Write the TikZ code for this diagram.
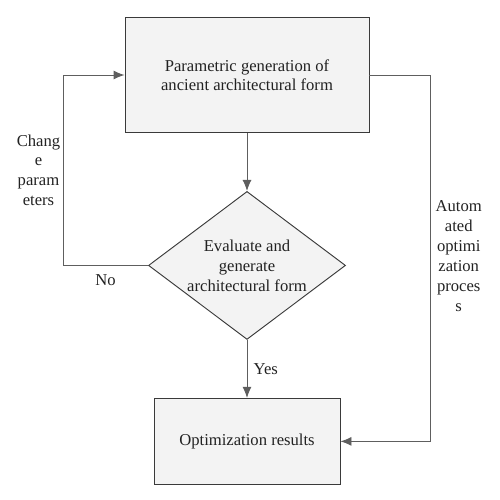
\documentclass[tikz,border=0pt]{standalone}
\usepackage{fontspec}
\setmainfont{Liberation Serif}
\usetikzlibrary{positioning,shapes.geometric,arrows.meta}
\definecolor{boxfill}{HTML}{F3F3F3}
\definecolor{boxline}{HTML}{3A3A3A}
\definecolor{wire}{HTML}{5E5E5E}
\definecolor{ink}{HTML}{222222}
\tikzset{
  pb/.style={rectangle, minimum width=7.32cm, minimum height=3.45cm, text centered, align=center, draw=boxline, fill=boxfill},
  dm/.style={diamond, aspect=1.33, minimum width=5.91cm, minimum height=4.44cm, inner sep=0pt, align=center, draw=boxline, fill=boxfill},
  lb/.style={align=center, inner sep=2pt},
  node distance=1.74cm
}

\begin{document}
\begin{tikzpicture}[line width=0.8pt, >={Latex[length=3.3mm,width=2.7mm]}, every node/.style={font=\fontsize{14.2}{17}\selectfont, text=ink}]
	\useasboundingbox (0,0) rectangle (14.97,-15);
	\node[pb, font=\fontsize{14.2}{16}\selectfont] (gen) at (7.41,-2.25) {Parametric generation of\\ancient architectural form};
	\node[dm, below=of gen] (eval) {Evaluate and\\generate\\architectural form};
	\node[pb, below=of eval, minimum width=5.58cm, minimum height=2.58cm] (res) {Optimization results};
	%
	\draw[->, wire] (gen) -- (eval);
	\draw[->, wire] (eval) -- node[right, xshift=2pt] {Yes} (res);
	\draw[->, wire] (eval.west) -- node[below, yshift=-4pt] {No} ++(-2.55,0) |- node[lb, left, pos=0.25] {Chang\\e\\param\\eters} (gen.west);
	\draw[->, wire] (gen.east) -- ++(1.83,0) |- node[lb, right, pos=0.25, xshift=2pt, yshift=2pt] {Autom\\ated\\optimi\\zation\\proces\\s} (res.east);
\end{tikzpicture}
\end{document}
